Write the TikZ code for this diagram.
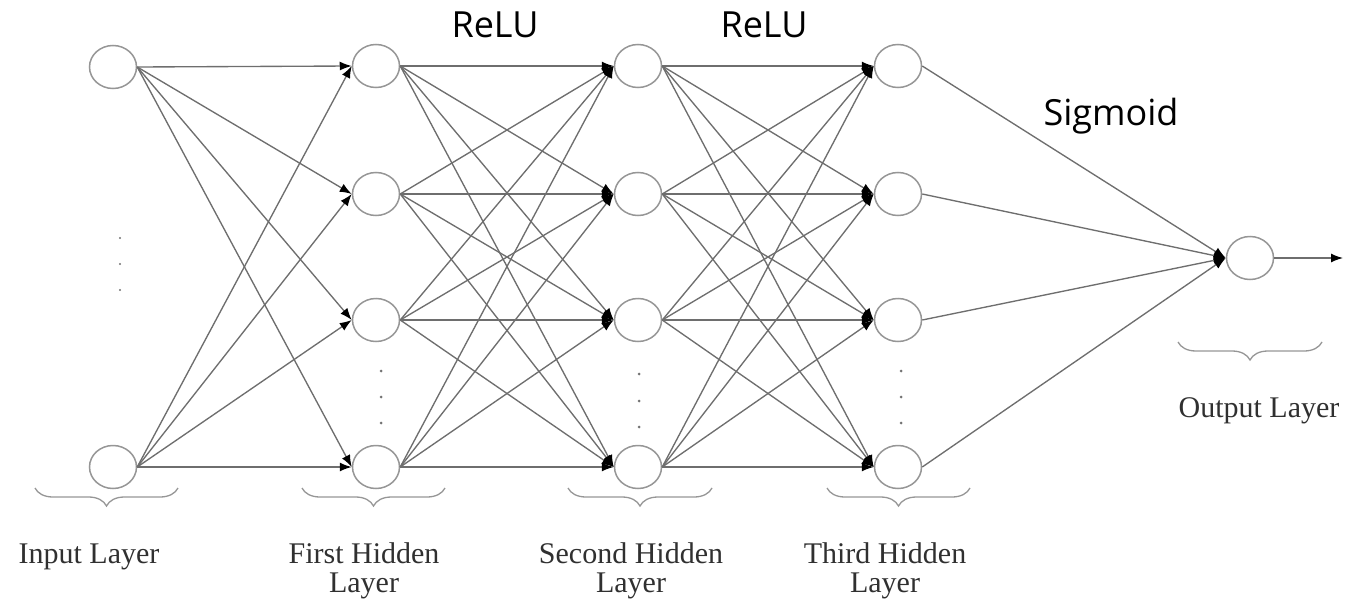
\documentclass[tikz,border=0pt]{standalone}
\usepackage{fontspec}
\setmainfont{Liberation Serif}
\newfontfamily\actfont{Open Sans}
\usetikzlibrary{arrows.meta,decorations.pathreplacing,shapes.geometric}
\definecolor{edgegray}{HTML}{6E6E6E}
\definecolor{nodegray}{HTML}{969696}
\definecolor{labgray}{HTML}{303030}
\begin{document}
\begin{tikzpicture}[x=1pt,y=-1pt,
  neuron/.style={ellipse,draw=nodegray,line width=1.5pt,minimum width=47pt,minimum height=43pt,inner sep=0pt,fill=white},
  conn/.style={draw=edgegray,line width=1.35pt,-{Latex[length=12pt,width=9pt,color=black]}},
  brc/.style={draw=nodegray,line width=1.3pt,decorate,decoration={brace,mirror,amplitude=18pt}},
  dotm/.style={circle,fill=black!55,inner sep=0pt,minimum size=3pt},
  laylab/.style={font=\fontsize{30}{29}\selectfont,text=labgray,align=center,inner sep=0pt},
  actlab/.style={font=\actfont\fontsize{36}{40}\selectfont,text=black,inner sep=0pt,anchor=base}]
\useasboundingbox (0,0) rectangle (1364,599);
% input layer
\node[neuron] (i1) at (113,67) {};
\node[neuron] (i2) at (113,467) {};
% hidden layers
\foreach \L/\x in {a/376,b/638,c/898}{
  \node[neuron] (\L1) at (\x,66) {};
  \node[neuron] (\L2) at (\x,194) {};
  \node[neuron] (\L3) at (\x,320) {};
  \node[neuron] (\L4) at (\x,467) {};
}
% output
\node[neuron] (o) at (1250,258) {};
\coordinate (oend) at (1343,258);
% connections
\foreach \s in {1,2}{\foreach \t in {1,...,4}{\draw[conn] (i\s.east) -- (a\t.west);}}
\foreach \s in {1,...,4}{\foreach \t in {1,...,4}{\draw[conn] (a\s.east) -- (b\t.west);}}
\foreach \s in {1,...,4}{\foreach \t in {1,...,4}{\draw[conn] (b\s.east) -- (c\t.west);}}
\foreach \s in {1,...,4}{\draw[conn] (c\s.east) -- (o.west);}
\draw[conn] (o.east) -- (oend);
% dots
\foreach \y [count=\k] in {238,264,290}{\node[dotm,minimum size=2.2pt] (di\k) at (120,\y) {};}
\foreach \y [count=\k] in {371,397,423}{
  \node[dotm] (da\k) at (381,\y) {};
  \node[dotm] (dc\k) at (901,\y) {};
}
\foreach \y [count=\k] in {374,401,427}{\node[dotm] (db\k) at (639,\y) {};}
% braces
\draw[brc] (35,488) -- (178,488);
\draw[brc] (302,488) -- (445,488);
\draw[brc] (568,488) -- (712,488);
\draw[brc] (827,488) -- (970,488);
\draw[brc] (1178,342) -- (1322,342);
% layer labels
\node[laylab,anchor=base] (li) at (89,563) {Input Layer};
\node[laylab,anchor=north] (la) at (364,542.5) {First Hidden\\Layer};
\node[laylab,anchor=north] (lb) at (631,542.5) {Second Hidden\\Layer};
\node[laylab,anchor=north] (lc) at (885,542.5) {Third Hidden\\Layer};
\node[laylab,anchor=base] (lo) at (1259,417) {Output Layer};
% activation labels
\node[actlab] (r1) at (495,38) {ReLU};
\node[actlab] (r2) at (764,38) {ReLU};
\node[actlab] (sg) at (1111,125) {Sigmoid};
\end{tikzpicture}
\end{document}
